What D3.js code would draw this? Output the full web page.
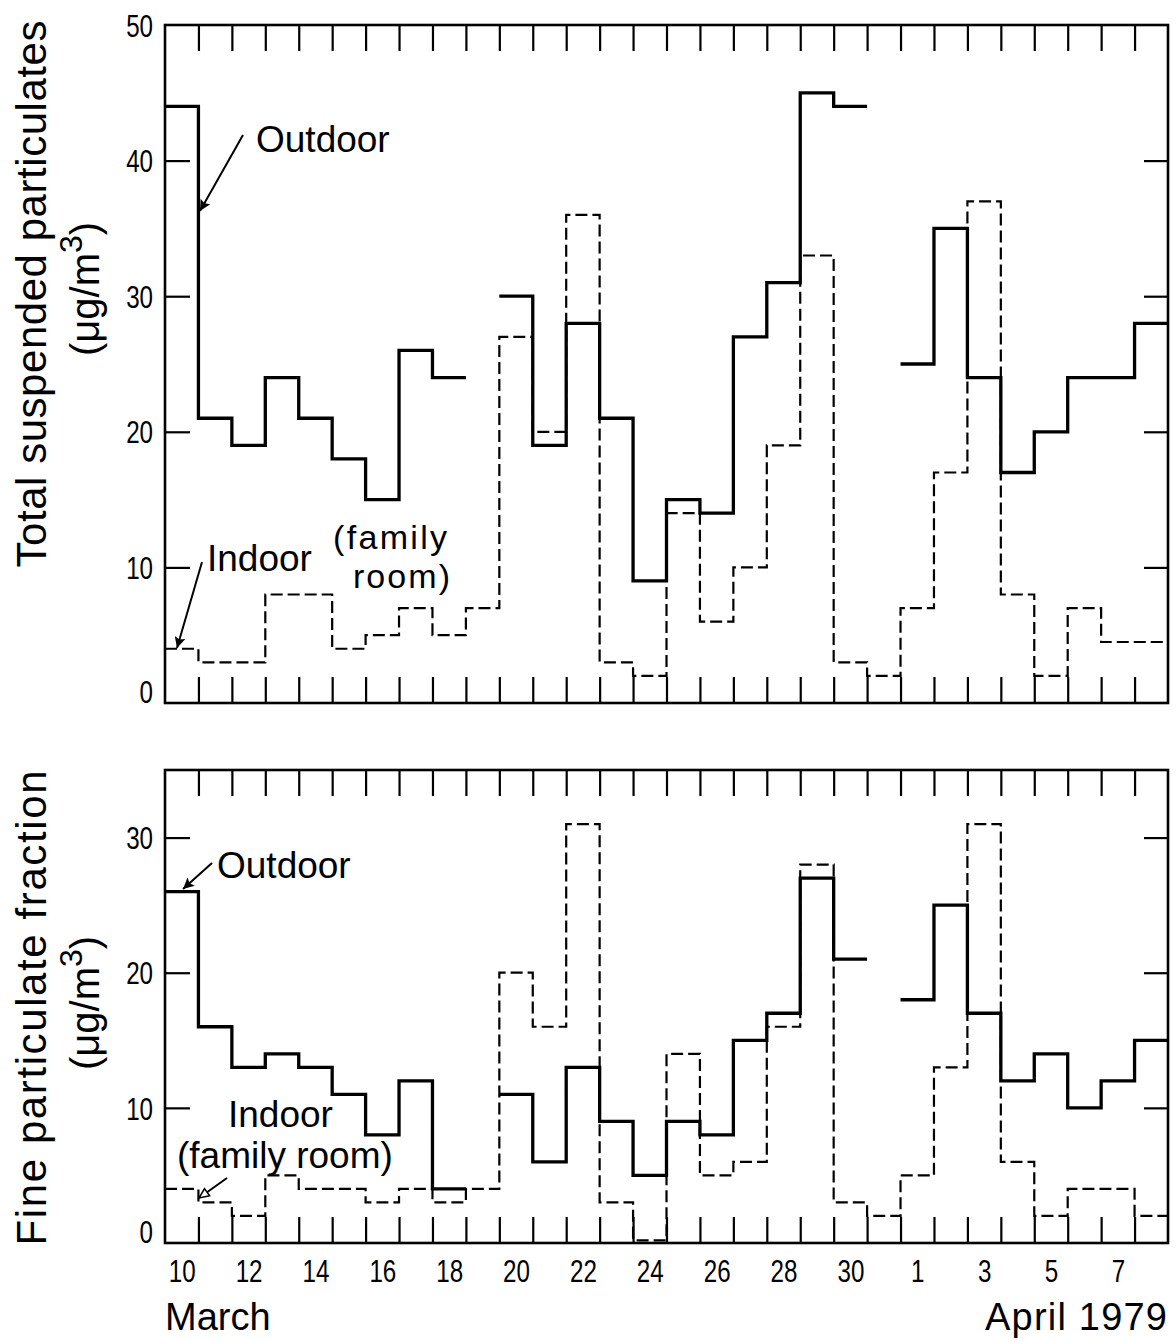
<!DOCTYPE html>
<html>
<head>
<meta charset="utf-8">
<script src="https://cdn.jsdelivr.net/npm/d3@7"></script>
<style>
  html, body { margin: 0; padding: 0; background: #fff; }
  svg { display: block; }
</style>
</head>
<body>
<svg id="chart" width="1176" height="1342"></svg>
<script>
// Daily sampling periods, 10 March – 8 April 1979
const days = ["10","11","12","13","14","15","16","17","18","19","20","21","22","23","24","25",
              "26","27","28","29","30","31","1","2","3","4","5","6","7","8"];
const dayTickLabels = ["10","12","14","16","18","20","22","24","26","28","30","1","3","5","7"];

// Total suspended particulates (µg/m3); null = no sample
const tspOutdoor = [44,21,19,24,21,18,15,26,24,null,30,19,28,21,9,15,14,27,31,45,44,null,25,35,24,17,20,24,24,28];
const tspIndoor  = [4,3,3,8,8,4,5,7,5,7,27,20,36,3,2,14,6,10,19,33,3,2,7,17,37,8,2,7,4.5,4.5];

// Fine particulate fraction (µg/m3)
const fineOutdoor = [26,16,13,14,13,11,8,12,4,null,11,6,13,9,5,9,8,15,17,27,21,null,18,25,17,12,14,10,12,15];
const fineIndoor  = [4,3,2,5,4,4,3,4,3,4,20,16,31,3,0.2,14,5,6,16,28,3,2,5,13,31,6,2,4,4,2];

const tspTicks  = [0,10,20,30,40,50];
const fineTicks = [0,10,20,30];

const labelFont = "'Liberation Sans',Arial,sans-serif";
const numSize = 31;      // tick numerals, drawn horizontally condensed
const numSquash = 0.78;

const svg = d3.select("#chart");
const left = 165, right = 1168;
const x = d3.scaleLinear().domain([0, days.length]).range([left, right]);

// arrowheads
const defs = svg.append("defs");
defs.append("marker").attr("id", "headFill")
  .attr("viewBox", "0 0 10 10").attr("refX", 10).attr("refY", 5)
  .attr("markerUnits", "userSpaceOnUse").attr("markerWidth", 19).attr("markerHeight", 11)
  .attr("orient", "auto")
  .append("path").attr("d", "M0,0 L10,5 L0,10 L2,5 z").attr("fill", "#000");
defs.append("marker").attr("id", "headOpen")
  .attr("viewBox", "0 0 10 10").attr("refX", 10).attr("refY", 5)
  .attr("markerUnits", "userSpaceOnUse").attr("markerWidth", 15).attr("markerHeight", 11)
  .attr("orient", "auto")
  .append("path").attr("d", "M1,1 L10,5 L1,9 z").attr("fill", "#fff").attr("stroke", "#000").attr("stroke-width", 1.4);

const panels = [
  { top: 25,  bottom: 703,  max: 50, ticks: tspTicks,  outdoor: tspOutdoor,  indoor: tspIndoor },
  { top: 770, bottom: 1243, max: 35, ticks: fineTicks, outdoor: fineOutdoor, indoor: fineIndoor }
];

// each day becomes a flat segment; consecutive days join with a vertical riser
const stepPoints = vals => vals.flatMap((v, i) => [{ i, v }, { i: i + 1, v }]);

const styleNums = sel => sel
  .attr("font-family", labelFont).attr("font-size", numSize).attr("fill", "#000")
  .attr("transform", `scale(${numSquash},1)`);

panels.forEach(p => {
  const y = d3.scaleLinear().domain([0, p.max]).range([p.bottom, p.top]);
  const g = svg.append("g");
  const inner = p.ticks.filter(t => t > 0 && t < p.max);
  const thin = a => { a.select(".domain").remove(); a.selectAll("line").attr("stroke-width", 2.2); };

  // boundary ticks (inward) on top and bottom edges
  g.append("g").attr("transform", `translate(0,${p.top})`)
    .call(d3.axisTop(x).tickValues(d3.range(1, days.length)).tickSize(-26).tickFormat(""))
    .call(thin);
  g.append("g").attr("transform", `translate(0,${p.bottom})`)
    .call(d3.axisBottom(x).tickValues(d3.range(1, days.length)).tickSize(-26).tickFormat(""))
    .call(thin);

  // value ticks (inward) on both sides
  g.append("g").attr("transform", `translate(${left},0)`)
    .call(d3.axisLeft(y).tickValues(inner).tickSize(-25).tickFormat(""))
    .call(thin);
  g.append("g").attr("transform", `translate(${right},0)`)
    .call(d3.axisRight(y).tickValues(inner).tickSize(-24).tickFormat(""))
    .call(thin);

  // value labels
  g.append("g").attr("transform", `translate(${left},0)`)
    .call(d3.axisLeft(y).tickValues(p.ticks).tickSize(0).tickPadding(12))
    .call(a => a.select(".domain").remove())
    .call(a => a.selectAll("text").call(styleNums)
      .attr("x", -12 / numSquash)
      .attr("dy", d => d === 0 ? "-0.02em" : "0.36em"));

  // frame
  g.append("rect").attr("x", left).attr("y", p.top)
    .attr("width", right - left).attr("height", p.bottom - p.top)
    .attr("fill", "none").attr("stroke", "#000").attr("stroke-width", 2.6);

  const line = d3.line().defined(d => d.v != null).x(d => x(d.i)).y(d => y(d.v));

  g.append("path").datum(stepPoints(p.indoor)).attr("d", line)
    .attr("fill", "none").attr("stroke", "#000").attr("stroke-width", 2.2)
    .attr("stroke-dasharray", "12,5");
  g.append("path").datum(stepPoints(p.outdoor)).attr("d", line)
    .attr("fill", "none").attr("stroke", "#000").attr("stroke-width", 3.3);
});

// day labels under the lower panel
svg.append("g").attr("transform", `translate(0,${panels[1].bottom})`)
  .call(d3.axisBottom(x).tickValues(dayTickLabels.map(l => days.indexOf(l) + 0.5))
    .tickSize(0).tickPadding(17).tickFormat(v => days[Math.floor(v)]))
  .call(a => a.select(".domain").remove())
  .call(a => a.selectAll("text").call(styleNums));

const txt = (s, xx, yy, opts = {}) => svg.append("text")
  .attr("x", xx).attr("y", yy)
  .attr("font-family", labelFont).attr("font-size", opts.size || 37)
  .attr("text-anchor", opts.anchor || "start").attr("fill", "#000").text(s);

txt("March", 165, 1330, { size: 38 });
txt("April 1979", 1167, 1330, { size: 38, anchor: "end" })
  .attr("textLength", 182).attr("lengthAdjust", "spacing");

// axis titles
function title(line1, cy, len1) {
  svg.append("text")
    .attr("transform", `translate(46,${cy}) rotate(-90)`)
    .attr("text-anchor", "middle").attr("font-family", labelFont).attr("font-size", 42)
    .attr("textLength", len1).attr("lengthAdjust", "spacing")
    .text(line1);
  const t2 = svg.append("text")
    .attr("transform", `translate(99,${cy - 5}) rotate(-90)`)
    .attr("text-anchor", "middle").attr("font-family", labelFont).attr("font-size", 40);
  t2.append("tspan").text("(\u03bcg/m");
  t2.append("tspan").attr("dy", -17).attr("font-size", 32).text("3");
  t2.append("tspan").attr("dy", 17).text(")");
}
title("Total suspended particulates", 294, 547);
title("Fine particulate fraction", 1008, 475);

// annotations
const arrow = (x1, y1, x2, y2, head) => svg.append("line")
  .attr("x1", x1).attr("y1", y1).attr("x2", x2).attr("y2", y2)
  .attr("stroke", "#000").attr("stroke-width", 2)
  .attr("marker-end", `url(#${head})`);

txt("Outdoor", 256, 152);
arrow(243, 135, 200, 211, "headFill");
txt("Indoor", 207, 571);
arrow(202, 562, 177, 648, "headFill");
txt("(family", 333, 549, { size: 34 }).attr("textLength", 114).attr("lengthAdjust", "spacing");
txt("room)", 353, 588, { size: 34 }).attr("textLength", 97).attr("lengthAdjust", "spacing");

txt("Outdoor", 217, 878);
arrow(212, 863, 183, 889, "headFill");
txt("Indoor", 228, 1127);
txt("(family room)", 177, 1168);
arrow(227, 1178, 199, 1198, "headOpen");
</script>
</body>
</html>
